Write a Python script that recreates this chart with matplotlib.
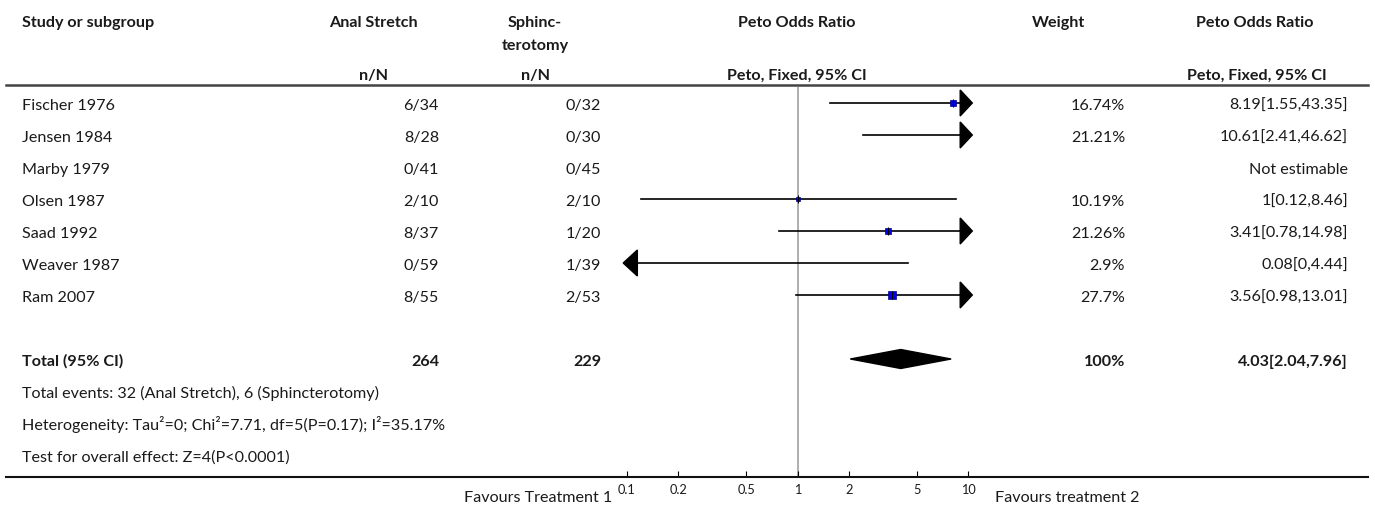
import matplotlib
matplotlib.use('Agg')
import numpy as np
import matplotlib.pyplot as plt
from matplotlib.patches import Polygon
from matplotlib.lines import Line2D

# data
studies = ['Fischer 1976', 'Jensen 1984', 'Marby 1979', 'Olsen 1987',
           'Saad 1992', 'Weaver 1987', 'Ram 2007']
stretch_n = [6, 8, 0, 2, 8, 0, 8]
stretch_N = [34, 28, 41, 10, 37, 59, 55]
sphinc_n = [0, 0, 0, 2, 1, 1, 2]
sphinc_N = [32, 30, 45, 10, 20, 39, 53]
odds = [8.19, 10.61, np.nan, 1, 3.41, 0.08, 3.56]
ci_low = [1.55, 2.41, np.nan, 0.12, 0.78, 0, 0.98]
ci_high = [43.35, 46.62, np.nan, 8.46, 14.98, 4.44, 13.01]
weights = [16.74, 21.21, np.nan, 10.19, 21.26, 2.9, 27.7]

total_N = [264, 229]
total_events = [32, 6]
total_or, total_low, total_high = 4.03, 2.04, 7.96
tau2, chi2, df, p_het, i2 = 0, 7.71, 5, 0.17, 35.17
z_val, p_val = 4, '<0.0001'

tick_vals = [0.1, 0.2, 0.5, 1, 2, 5, 10]

# layout (pixels)
W, H = 1375, 510
FONT = 'Lato'
FS = 11.6
TXT = '#1a1a1a'


def fx(px):
    return px / W


def fy(py):
    return 1 - py / H


def row_px(i):
    return 104 + 32 * i


plt.rcParams['font.family'] = [FONT, 'DejaVu Sans']
fig = plt.figure(figsize=(W / 100, H / 100), dpi=100)

ax = fig.add_axes([fx(627), fy(478), 341 / W, (478 - 88) / H])
ax.set_xscale('log')
ax.set_xlim(0.1, 10)
ax.set_ylim((478 - 104) / 32, (88 - 104) / 32)
for s in ax.spines.values():
    s.set_visible(False)
ax.set_yticks([])
ax.set_xticks(tick_vals)
ax.set_xticklabels([f'{v:g}' for v in tick_vals])
ax.xaxis.set_minor_locator(matplotlib.ticker.NullLocator())
ax.tick_params(axis='x', direction='in', length=4, width=0.8, pad=4,
               labelsize=9.2, labelcolor=TXT)
ax.axvline(1, color='#a8a8a8', lw=1.3, zorder=1)

lo_clip, hi_clip = 0.115, 9.0
lo_tip, hi_tip = 0.095, 10.6
arrow_h = 13 / 32


def t(px_x, px_y, s, ha='left', bold=False, size=FS, color=TXT):
    fig.text(fx(px_x), fy(px_y), s, ha=ha, va='baseline', fontsize=size,
             fontweight='bold' if bold else 'normal', color=color)


# header
t(22, 27, 'Study or subgroup', bold=True)
t(373, 27, 'Anal Stretch', ha='center', bold=True)
t(535, 27, 'Sphinc-', ha='center', bold=True)
t(535, 50, 'terotomy', ha='center', bold=True)
t(797, 27, 'Peto Odds Ratio', ha='center', bold=True)
t(1058, 27, 'Weight', ha='center', bold=True)
t(1255, 27, 'Peto Odds Ratio', ha='center', bold=True)
t(374, 80, 'n/N', ha='center', bold=True)
t(536, 80, 'n/N', ha='center', bold=True)
t(797, 80, 'Peto, Fixed, 95% CI', ha='center', bold=True)
t(1257, 80, 'Peto, Fixed, 95% CI', ha='center', bold=True)

fig.add_artist(Line2D([fx(6), fx(1368)], [fy(86), fy(86)], color='#444444', lw=1.8))
fig.add_artist(Line2D([fx(6), fx(1368)], [fy(478), fy(478)], color='#111111', lw=1.5))

for i, name in enumerate(studies):
    b = row_px(i) + 6
    t(22, b, name)
    t(439, b, f'{stretch_n[i]}/{stretch_N[i]}', ha='right')
    t(601, b, f'{sphinc_n[i]}/{sphinc_N[i]}', ha='right')
    if np.isnan(odds[i]):
        t(1348, b, 'Not estimable', ha='right')
        continue
    t(1125, b, f'{weights[i]:g}%', ha='right')
    t(1348, b, f'{odds[i]:g}[{ci_low[i]:g},{ci_high[i]:g}]', ha='right')

    lo = max(ci_low[i], lo_clip)
    hi = min(ci_high[i], hi_clip)
    ax.plot([lo, hi], [i, i], color='black', lw=1.2, zorder=3, clip_on=False)
    if ci_low[i] < lo_clip:
        ax.add_patch(Polygon([(lo_clip, i - arrow_h), (lo_tip, i), (lo_clip, i + arrow_h)],
                             closed=True, color='black', clip_on=False, zorder=4))
    if ci_high[i] > hi_clip:
        ax.add_patch(Polygon([(hi_clip, i - arrow_h), (hi_tip, i), (hi_clip, i + arrow_h)],
                             closed=True, color='black', clip_on=False, zorder=4))
    if lo_clip <= odds[i] <= hi_clip:
        side = weights[i] * 0.32 * 0.72
        ax.plot(odds[i], i, marker='s', ms=side, color='#0000ee',
                mec='#000088', mew=0.5, zorder=5, clip_on=False)
        ax.plot(odds[i], i, marker='|', ms=6, color='black', mew=0.8,
                zorder=6, clip_on=False)

# total
tr = 8
b = row_px(tr) + 6
t(22, b, 'Total (95% CI)', bold=True)
t(439, b, f'{total_N[0]}', ha='right', bold=True)
t(601, b, f'{total_N[1]}', ha='right', bold=True)
t(1125, b, '100%', ha='right', bold=True)
t(1348, b, f'{total_or:g}[{total_low:g},{total_high:g}]', ha='right', bold=True)
dh = 9.5 / 32
ax.add_patch(Polygon([(total_low, tr), (total_or, tr - dh), (total_high, tr),
                      (total_or, tr + dh)], closed=True, color='black', zorder=4))

t(22, row_px(9) + 6, f'Total events: {total_events[0]} (Anal Stretch), {total_events[1]} (Sphincterotomy)')
t(22, row_px(10) + 6, f'Heterogeneity: Tau\u00b2={tau2}; Chi\u00b2={chi2}, df={df}(P={p_het}); I\u00b2={i2}%')
t(22, row_px(11) + 6, f'Test for overall effect: Z={z_val}(P{p_val})')

t(612, 502, 'Favours Treatment 1', ha='right')
t(995, 502, 'Favours treatment 2')

fig.savefig('out.png', dpi=100)
